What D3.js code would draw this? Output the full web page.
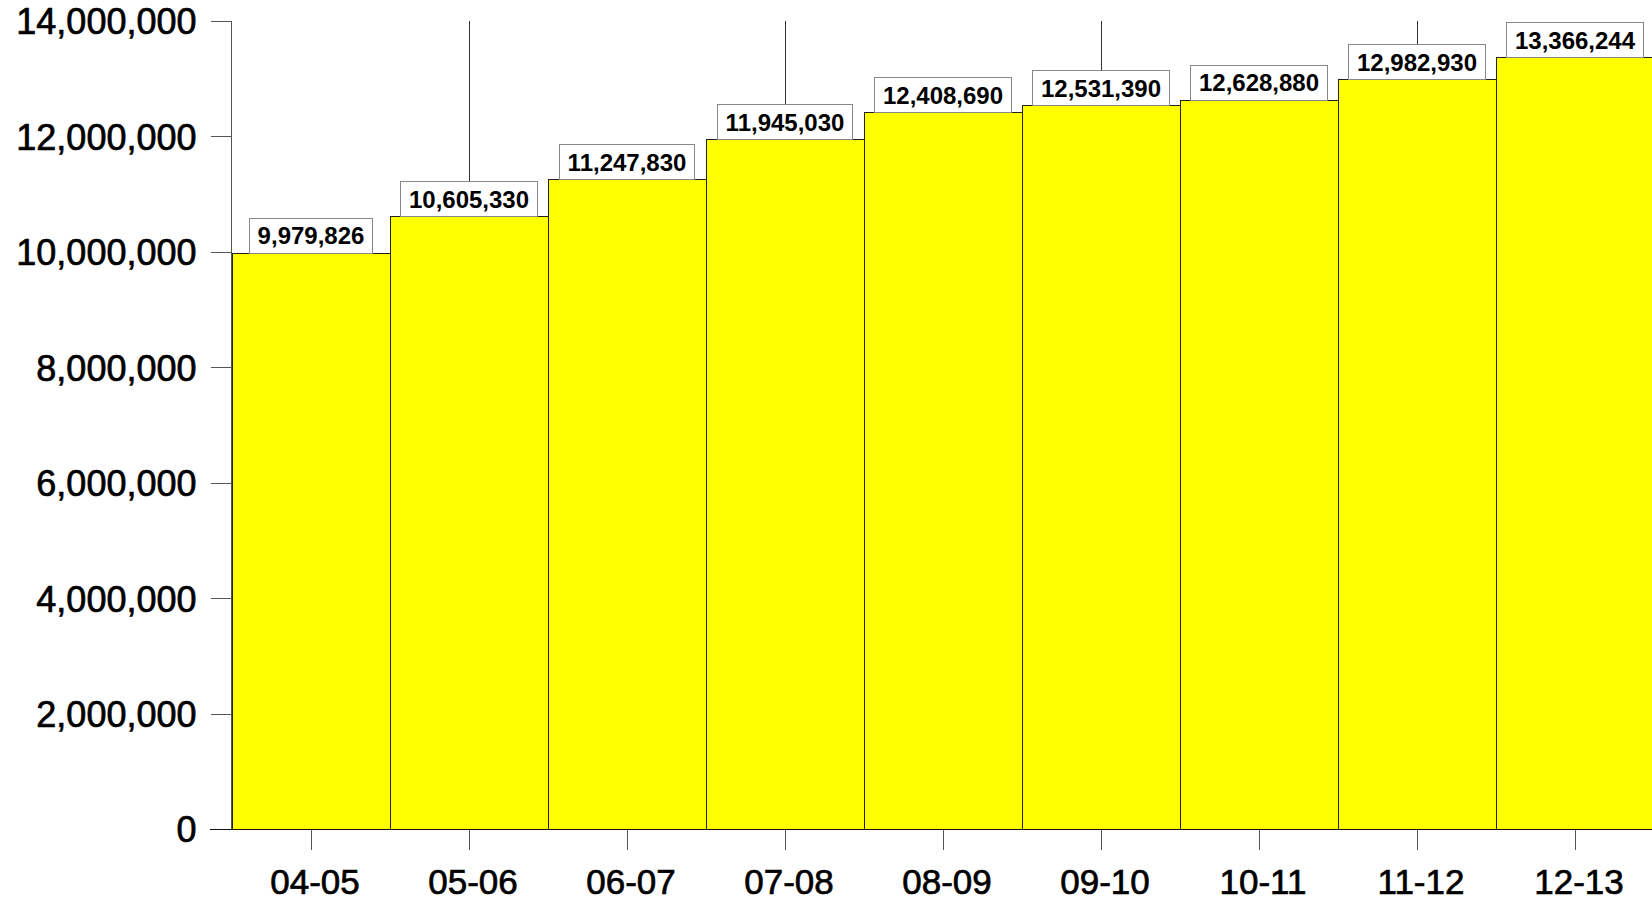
<!DOCTYPE html>
<html>
<head>
<meta charset="utf-8">
<script src="https://cdn.jsdelivr.net/npm/d3@7"></script>
<style>
  html, body { margin: 0; padding: 0; background: #fff; }
  svg { display: block; }
  text { font-family: "Liberation Sans", Arial, sans-serif; fill: #000; }
</style>
</head>
<body>
<svg id="chart" width="1652" height="902"></svg>
<script>
const categories = ["04-05", "05-06", "06-07", "07-08", "08-09", "09-10", "10-11", "11-12", "12-13"];
const values = [9979826, 10605330, 11247830, 11945030, 12408690, 12531390, 12628880, 12982930, 13366244];
const yTicks = [0, 2000000, 4000000, 6000000, 8000000, 10000000, 12000000, 14000000];
const leaderIdx = [1, 3, 5, 7];

(function () {
const svg = d3.select("#chart");
const W = 1652;
const plotLeft = 232, plotTop = 21, plotBottom = 829, band = 158;

const x = d3.scaleBand().domain(categories).range([plotLeft, plotLeft + band * categories.length]).padding(0);
const y = d3.scaleLinear().domain([0, 14000000]).range([plotBottom, plotTop]);
const fmt = d3.format(",");

// Y axis
const yAxis = svg.append("g")
  .attr("transform", `translate(${plotLeft - 0.5},0)`)
  .call(d3.axisLeft(y).tickValues(yTicks).tickFormat(fmt).tickSize(21).tickPadding(14));
yAxis.select(".domain").remove();
yAxis.selectAll(".tick line").attr("stroke", "#555").attr("shape-rendering", "crispEdges");
yAxis.selectAll(".tick text")
  .attr("font-size", 36)
  .attr("font-family", "'Liberation Sans', Arial, sans-serif")
  .attr("fill", "#000")
  .attr("stroke", "#000")
  .attr("stroke-width", 0.7)
  .attr("dy", "0.36em");
svg.append("line")
  .attr("x1", plotLeft - 0.5).attr("x2", plotLeft - 0.5)
  .attr("y1", y(14000000)).attr("y2", y(0))
  .attr("stroke", "#555").attr("shape-rendering", "crispEdges");

// Leader lines
svg.append("g").selectAll("line")
  .data(leaderIdx)
  .join("line")
  .attr("x1", i => x(categories[i]) + x.bandwidth() / 2)
  .attr("x2", i => x(categories[i]) + x.bandwidth() / 2)
  .attr("y1", y(14000000))
  .attr("y2", i => y(values[i]) - 35)
  .attr("stroke", "#333")
  .attr("shape-rendering", "crispEdges");

// Bars
svg.append("g").selectAll("rect")
  .data(categories)
  .join("rect")
  .attr("x", c => x(c))
  .attr("y", (c, i) => y(values[i]))
  .attr("width", x.bandwidth())
  .attr("height", (c, i) => y(0) - y(values[i]))
  .attr("fill", "#ffff00")
  .attr("stroke", "#222")
  .attr("stroke-width", 1)
  .attr("shape-rendering", "crispEdges");

// X axis
const xAxis = svg.append("g")
  .attr("transform", `translate(0,${plotBottom})`)
  .call(d3.axisBottom(x).tickSize(21).tickPadding(0).tickFormat(""));
xAxis.select(".domain").remove();
xAxis.selectAll(".tick line").attr("stroke", "#555").attr("shape-rendering", "crispEdges");
svg.append("line")
  .attr("x1", 210).attr("x2", W)
  .attr("y1", plotBottom + 0.5).attr("y2", plotBottom + 0.5)
  .attr("stroke", "#111").attr("shape-rendering", "crispEdges");

svg.append("g").selectAll("text")
  .data(categories)
  .join("text")
  .attr("x", c => x(c) + x.bandwidth() / 2 + 4)
  .attr("y", 894)
  .attr("text-anchor", "middle")
  .attr("font-size", 35)
  .attr("stroke", "#000")
  .attr("stroke-width", 0.7)
  .text(c => c);

// Value labels
const lbl = svg.append("g").selectAll("g")
  .data(categories)
  .join("g")
  .attr("transform", (c, i) => `translate(${x(c) + x.bandwidth() / 2},${y(values[i])})`);
lbl.append("text")
  .attr("text-anchor", "middle")
  .attr("font-size", 24)
  .attr("font-weight", "bold")
  .attr("y", -17.5)
  .attr("dy", "0.36em")
  .text((c, i) => fmt(values[i]));
lbl.each(function () {
  const g = d3.select(this);
  const w = g.select("text").node().getComputedTextLength() + 16;
  g.insert("rect", "text")
    .attr("x", -w / 2)
    .attr("y", -35)
    .attr("width", w)
    .attr("height", 35)
    .attr("fill", "#fff")
    .attr("stroke", "#888")
    .attr("shape-rendering", "crispEdges");
});
})();
</script>
</body>
</html>
